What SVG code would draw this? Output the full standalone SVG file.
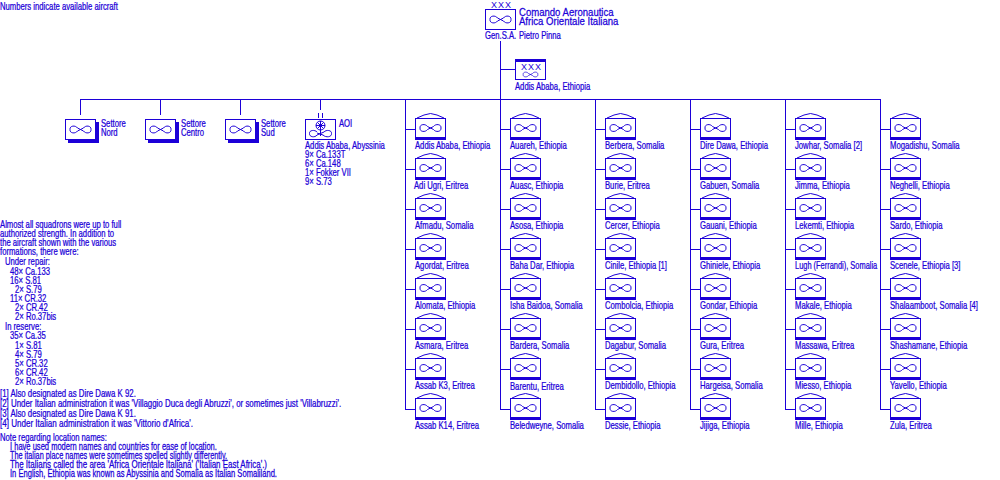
<svg xmlns="http://www.w3.org/2000/svg" width="1000" height="480" viewBox="0 0 1000 480">
<style>
text{font-family:"Liberation Sans",Arial,sans-serif;font-size:10px;fill:#1c00d8;stroke:#1c00d8;stroke-width:.25px;transform-box:fill-box;transform-origin:0 0;transform:scaleX(.77)}
text.b{font-size:11px;transform:scaleX(.87)}
text.m{font-size:9px;stroke-width:0;transform:none;letter-spacing:1px}
.l{fill:none;stroke:#1c00d8;stroke-width:1;shape-rendering:crispEdges}
.s{fill:none;stroke:#1c00d8;stroke-width:1}
.f{fill:#1c00d8;stroke:none;shape-rendering:crispEdges}
.w{fill:#fff;stroke:#1c00d8;stroke-width:1;shape-rendering:crispEdges}
</style>
<defs>
<path id="inf" class="s" d="M-3 -1.500L3 1.500C5 4.500 11 4 10.500 0C11 -4 5 -4.500 3 -1.500L-3 1.500C-5 4.500 -11 4 -10.500 0C-11 -4 -5 -4.500 -3 -1.500Z"/>
<g id="sq">
<path class="s" d="M2 5L9 2L15.500 .5L22 2L29 5"/>
<rect class="l" x=".5" y="5.500" width="30" height="21"/>
<rect class="f" x="0" y="24" width="31" height="3"/>
<use href="#inf" x="15.500" y="15"/>
</g>
<g id="sec">
<rect class="f" x="3" y="3" width="31" height="21"/>
<rect class="w" x=".5" y=".5" width="30" height="20"/>
<use href="#inf" x="15.500" y="10.500"/>
</g>
</defs>
<g id="connectors" class="l">
<path d="M80.500 99.500H880.500"/>
<path d="M80.500 99V115M160.500 99V115M240.500 99V115M320.500 99V110M318.500 113V118M322.500 113V118"/>
<path d="M500.500 41V409.500M500.500 69.500H515"/>
<path d="M405.500 99V409.500M595.500 99V409.500M690.500 99V409.500M785.500 99V409.500M880.500 99V409.500"/>
<path d="M405 129.500H415M405 169.500H415M405 209.500H415M405 249.500H415M405 289.500H415M405 329.500H415M405 369.500H415M405 409.500H415"/>
<path d="M500 129.500H510M500 169.500H510M500 209.500H510M500 249.500H510M500 289.500H510M500 329.500H510M500 369.500H510M500 409.500H510"/>
<path d="M595 129.500H605M595 169.500H605M595 209.500H605M595 249.500H605M595 289.500H605M595 329.500H605M595 369.500H605M595 409.500H605"/>
<path d="M690 129.500H700M690 169.500H700M690 209.500H700M690 249.500H700M690 289.500H700M690 329.500H700M690 369.500H700M690 409.500H700"/>
<path d="M785 129.500H795M785 169.500H795M785 209.500H795M785 249.500H795M785 289.500H795M785 329.500H795M785 369.500H795M785 409.500H795"/>
<path d="M880 129.500H890M880 169.500H890M880 209.500H890M880 249.500H890M880 289.500H890M880 329.500H890M880 369.500H890M880 409.500H890"/>
</g>
<g id="notes">
<text x="0" y="10">Numbers indicate available aircraft</text>
<text x="0" y="228">Almost all squadrons were up to full</text>
<text x="0" y="237">authorized strength. In addition to</text>
<text x="0" y="246">the aircraft shown with the various</text>
<text x="0" y="255">formations, there were:</text>
<text x="5" y="265">Under repair:</text>
<text x="10" y="275">48× Ca.133</text>
<text x="10" y="284">16× S.81</text>
<text x="15" y="293">2× S.79</text>
<text x="10" y="302">11× CR.32</text>
<text x="15" y="311">2× CR.42</text>
<text x="15" y="320">2× Ro.37bis</text>
<text x="5" y="330">In reserve:</text>
<text x="10" y="339">35× Ca.35</text>
<text x="15" y="349">1× S.81</text>
<text x="15" y="358">4× S.79</text>
<text x="15" y="367">5× CR.32</text>
<text x="15" y="376">6× CR.42</text>
<text x="15" y="385">2× Ro.37bis</text>
<text x="0" y="397" style="transform:scaleX(.785)">[1] Also designated as Dire Dawa K 92.</text>
<text x="0" y="407" style="transform:scaleX(.79)">[2] Under Italian administration it was 'Villaggio Duca degli Abruzzi', or sometimes just 'Villabruzzi'.</text>
<text x="0" y="417" style="transform:scaleX(.785)">[3] Also designated as Dire Dawa K 91.</text>
<text x="0" y="427" style="transform:scaleX(.805)">[4] Under Italian administration it was 'Vittorio d'Africa'.</text>
<text x="0" y="441">Note regarding location names:</text>
<text x="10" y="450" style="transform:scaleX(.755)">I have used modern names and countries for ease of location.</text>
<text x="10" y="459" style="transform:scaleX(.732)">The italian place names were sometimes spelled slightly differently.</text>
<text x="10" y="468" style="transform:scaleX(.795)">The Italians called the area 'Africa Orientale Italiana' ('Italian East Africa'.)</text>
<text x="10" y="477" style="transform:scaleX(.759)">In English, Ethiopia was known as Abyssinia and Somalia as Italian Somaliland.</text>
</g>
<g id="hq">
<text class="m" x="491" y="8">XXX</text>
<rect class="w" x="485.500" y="9.500" width="30" height="20"/>
<use href="#inf" x="500.500" y="19.500"/>
<text class="b" x="519" y="16">Comando Aeronautica</text>
<text class="b" x="519" y="25">Africa Orientale Italiana</text>
<text x="485" y="39">Gen.S.A.</text>
<text x="519" y="39">Pietro Pinna</text>
</g>
<g id="hqflight">
<rect class="w" x="515.500" y="59.500" width="30" height="20"/>
<rect class="f" x="515" y="59" width="31" height="3"/>
<text class="m" x="521" y="70">XXX</text>
<use href="#inf" transform="translate(530.500 74.500) scale(.7)"/>
<text x="515" y="90">Addis Ababa, Ethiopia</text>
</g>
<g id="sector-nord"><use href="#sec" x="65" y="119"/><text x="101" y="127">Settore</text><text x="101" y="136">Nord</text></g>
<g id="sector-centro"><use href="#sec" x="145" y="119"/><text x="181" y="127">Settore</text><text x="181" y="136">Centro</text></g>
<g id="sector-sud"><use href="#sec" x="225" y="119"/><text x="261" y="127">Settore</text><text x="261" y="136">Sud</text></g>
<g id="aoi">
<rect class="w" x="305.500" y="119.500" width="30" height="20"/>
<circle class="s" cx="320.500" cy="125.500" r="4.500"/>
<circle class="f" cx="320.500" cy="125.500" r="1.500"/>
<path class="s" d="M320.500 121V136M316 125.500H325M317.500 122.500L323.500 128.500M323.500 122.500L317.500 128.500"/>
<path class="s" d="M317 133L323 135C326 138 332 137 331.500 133.500C332 130 326 129.500 324 132L317 135C315 138 309 137 309.500 133.500C309 130 315 129.500 317 132"/>
<text x="339" y="127">AOI</text>
<text x="305" y="149">Addis Ababa, Abyssinia</text>
<text x="305" y="158">9× Ca.133T</text>
<text x="305" y="167">6× Ca.148</text>
<text x="305" y="176">1× Fokker VII</text>
<text x="305" y="185">9× S.73</text>
</g>
<g id="a1"><use href="#sq" x="415" y="113"/><text x="415" y="149">Addis Ababa, Ethiopia</text></g>
<g id="a2"><use href="#sq" x="415" y="153"/><text x="414" y="189">Adi Ugri, Eritrea</text></g>
<g id="a3"><use href="#sq" x="415" y="193"/><text x="415" y="229">Afmadu, Somalia</text></g>
<g id="a4"><use href="#sq" x="415" y="233"/><text x="415" y="269">Agordat, Eritrea</text></g>
<g id="a5"><use href="#sq" x="415" y="273"/><text x="415" y="309">Alomata, Ethiopia</text></g>
<g id="a6"><use href="#sq" x="415" y="313"/><text x="415" y="349">Asmara, Eritrea</text></g>
<g id="a7"><use href="#sq" x="415" y="353"/><text x="415" y="389">Assab K3, Eritrea</text></g>
<g id="a8"><use href="#sq" x="415" y="393"/><text x="415" y="429">Assab K14, Eritrea</text></g>
<g id="b1"><use href="#sq" x="510" y="113"/><text x="510" y="149">Auareh, Ethiopia</text></g>
<g id="b2"><use href="#sq" x="510" y="153"/><text x="510" y="189">Auasc, Ethiopia</text></g>
<g id="b3"><use href="#sq" x="510" y="193"/><text x="510" y="229">Asosa, Ethiopia</text></g>
<g id="b4"><use href="#sq" x="510" y="233"/><text x="510" y="269">Baha Dar, Ethiopia</text></g>
<g id="b5"><use href="#sq" x="510" y="273"/><text x="510" y="309">Isha Baidoa, Somalia</text></g>
<g id="b6"><use href="#sq" x="510" y="313"/><text x="510" y="349">Bardera, Somalia</text></g>
<g id="b7"><use href="#sq" x="510" y="353"/><text x="510" y="390">Barentu, Eritrea</text></g>
<g id="b8"><use href="#sq" x="510" y="393"/><text x="510" y="429">Beledweyne, Somalia</text></g>
<g id="c1"><use href="#sq" x="605" y="113"/><text x="605" y="149">Berbera, Somalia</text></g>
<g id="c2"><use href="#sq" x="605" y="153"/><text x="605" y="189">Burie, Eritrea</text></g>
<g id="c3"><use href="#sq" x="605" y="193"/><text x="605" y="229">Cercer, Ethiopia</text></g>
<g id="c4"><use href="#sq" x="605" y="233"/><text x="605" y="269">Cinile, Ethiopia [1]</text></g>
<g id="c5"><use href="#sq" x="605" y="273"/><text x="605" y="309">Combolcia, Ethiopia</text></g>
<g id="c6"><use href="#sq" x="605" y="313"/><text x="605" y="349">Dagabur, Somalia</text></g>
<g id="c7"><use href="#sq" x="605" y="353"/><text x="605" y="389">Dembidollo, Ethiopia</text></g>
<g id="c8"><use href="#sq" x="605" y="393"/><text x="605" y="429">Dessie, Ethiopia</text></g>
<g id="d1"><use href="#sq" x="700" y="113"/><text x="700" y="149">Dire Dawa, Ethiopia</text></g>
<g id="d2"><use href="#sq" x="700" y="153"/><text x="700" y="189">Gabuen, Somalia</text></g>
<g id="d3"><use href="#sq" x="700" y="193"/><text x="700" y="229">Gauani, Ethiopia</text></g>
<g id="d4"><use href="#sq" x="700" y="233"/><text x="700" y="269">Ghiniele, Ethiopia</text></g>
<g id="d5"><use href="#sq" x="700" y="273"/><text x="700" y="309">Gondar, Ethiopia</text></g>
<g id="d6"><use href="#sq" x="700" y="313"/><text x="700" y="349">Gura, Eritrea</text></g>
<g id="d7"><use href="#sq" x="700" y="353"/><text x="700" y="389">Hargeisa, Somalia</text></g>
<g id="d8"><use href="#sq" x="700" y="393"/><text x="700" y="429">Jijiga, Ethiopia</text></g>
<g id="e1"><use href="#sq" x="795" y="113"/><text x="795" y="149">Jowhar, Somalia [2]</text></g>
<g id="e2"><use href="#sq" x="795" y="153"/><text x="795" y="189">Jimma, Ethiopia</text></g>
<g id="e3"><use href="#sq" x="795" y="193"/><text x="795" y="229">Lekemti, Ethiopia</text></g>
<g id="e4"><use href="#sq" x="795" y="233"/><text x="795" y="269" style="transform:scaleX(.745)">Lugh (Ferrandi), Somalia</text></g>
<g id="e5"><use href="#sq" x="795" y="273"/><text x="795" y="309">Makale, Ethiopia</text></g>
<g id="e6"><use href="#sq" x="795" y="313"/><text x="795" y="349">Massawa, Eritrea</text></g>
<g id="e7"><use href="#sq" x="795" y="353"/><text x="795" y="389">Miesso, Ethiopia</text></g>
<g id="e8"><use href="#sq" x="795" y="393"/><text x="795" y="429">Mille, Ethiopia</text></g>
<g id="f1"><use href="#sq" x="890" y="113"/><text x="890" y="149">Mogadishu, Somalia</text></g>
<g id="f2"><use href="#sq" x="890" y="153"/><text x="890" y="189">Neghelli, Ethiopia</text></g>
<g id="f3"><use href="#sq" x="890" y="193"/><text x="890" y="229">Sardo, Ethiopia</text></g>
<g id="f4"><use href="#sq" x="890" y="233"/><text x="890" y="269">Scenele, Ethiopia [3]</text></g>
<g id="f5"><use href="#sq" x="890" y="273"/><text x="890" y="309">Shalaamboot, Somalia [4]</text></g>
<g id="f6"><use href="#sq" x="890" y="313"/><text x="890" y="349">Shashamane, Ethiopia</text></g>
<g id="f7"><use href="#sq" x="890" y="353"/><text x="890" y="389">Yavello, Ethiopia</text></g>
<g id="f8"><use href="#sq" x="890" y="393"/><text x="890" y="429">Zula, Eritrea</text></g>
</svg>
